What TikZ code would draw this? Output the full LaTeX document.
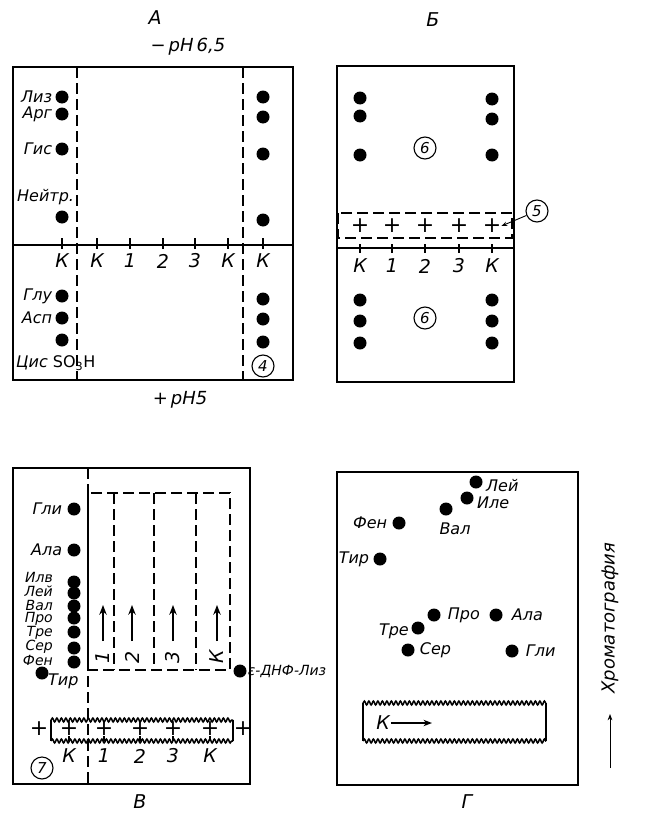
\documentclass[tikz,border=0pt]{standalone}
\usepackage{fontspec}
\setmainfont{DejaVu Sans}
\usetikzlibrary{arrows.meta,positioning,decorations.pathmorphing}
\tikzset{
  >={Stealth[length=3mm]},
  spot/.style={circle,fill=black,minimum size=13pt,inner sep=0pt},
  plate/.style={draw,line width=2.4pt},
  dsh/.style={dash pattern=on 11pt off 5pt,line width=1.4pt},
  tick/.style={line width=1.1pt},
  amino/.style={font=\fontsize{16}{16}\selectfont\itshape,inner sep=1pt},
  stack/.style={font=\fontsize{14}{14}\selectfont\itshape,inner sep=0pt},
  lane/.style={font=\fontsize{19}{19}\selectfont\itshape,inner sep=1pt},
  ttl/.style={font=\fontsize{19}{19}\selectfont\itshape},
  ph/.style={font=\fontsize{18}{18}\selectfont\itshape},
  pls/.style={font=\fontsize{22}{22}\selectfont,inner sep=0pt},
  num/.style={draw,circle,line width=1.1pt,minimum size=22pt,inner sep=0pt,
              font=\fontsize{15}{15}\selectfont\itshape},       % circled number
  wavy/.style={decorate,decoration={snake,segment length=4.5pt,amplitude=2pt},
               line width=1.5pt},                              % serrated strip edge
}

\begin{document}
\begin{tikzpicture}[x=1pt,y=-1pt]
  \useasboundingbox (0,0) rectangle (664,816);

  % ---- A: electrophoresis ----
  \node[ttl] (tA) at (155,18) {А};
  \node[ph] (phTop) at (188,47) {−\,pH\,6,5};
  \node[ph] (phBot) at (180,400) {+\,pH5};
  \draw[plate] (13,67) rectangle (293,380);
  \draw[line width=1.8pt] (13,245) -- (293,245);
  \draw[dsh] (77,67) -- (77,380);
  \draw[dsh] (243,67) -- (243,380);
  \foreach \x/\t in {62/К,97/К,130/1,163/2,195/3,228/К,263/К}{
    \draw[tick] (\x,238) -- (\x,249);
    \node[lane] (kA\x) at (\x,261) {\t};
  }
  \foreach \n/\y in {1/97,2/114,3/149,4/217,5/296,6/318,7/340}
    \node[spot] (al\n) at (62,\y) {};
  \foreach \n/\y in {1/97,2/117,3/154,4/220,5/299,6/319,7/342}
    \node[spot] (ar\n) at (263,\y) {};
  \node[amino,left=2pt of al1] (lLiz) {Лиз};
  \node[amino,left=2pt of al2] (lArg) {Арг};
  \node[amino,left=2pt of al3] (lGis) {Гис};
  \node[amino,anchor=west] (lNeu) at (16,197) {Нейтр.};
  \node[amino,left=2pt of al5] (lGlu) {Глу};
  \node[amino,left=2pt of al6] (lAsp) {Асп};
  \node[amino,anchor=west] (lCys) at (15,363) {Цис {\upshape SO\textsubscript{3}H}};
  \node[num] (c4) at (263,366) {4};

  % ---- Б ----
  \node[ttl] (tB) at (433,20) {Б};
  \draw[plate] (337,66) rectangle (514,382);
  \draw[dsh] (338,213) rectangle (512,238);
  \draw[line width=1.8pt] (337,248) -- (514,248);
  \foreach \n/\x/\t in {1/360/К,2/392/1,3/425/2,4/459/3,5/492/К}{
    \node[pls] (bp\n) at (\x,226) {+};
    \draw[tick] (\x,244) -- (\x,253);
    \node[lane] (kB\n) at (\x,266) {\t};
  }
  \foreach \n/\y/\z in {1/98/99,2/116/119,3/155/155,4/300/300,5/321/321,6/343/343}{
    \node[spot] (bl\n) at (360,\y) {};
    \node[spot] (br\n) at (492,\z) {};
  }
  \node[num] (c6a) at (425,148) {6};
  \node[num] (c6b) at (425,318) {6};
  \node[num] (c5) at (537,211) {5};
  \draw[->,line width=0.9pt,>={Stealth[length=2mm]}] (c5) -- (bp5.east);

  % ---- В ----
  \node[ttl] (tV) at (140,802) {В};
  \draw[plate] (13,468) rectangle (250,784);
  \draw[dsh] (88,468) -- (88,784);
  \draw[dsh] (88,493) rectangle (230,670);
  \foreach \x in {114,154,196} \draw[dsh] (\x,493) -- (\x,670);
  \foreach \n/\x/\t in {1/103/1,2/132/2,3/173/3,4/217/К}{
    \coordinate (vs\n) at (\x,641);
    \coordinate (ve\n) at (\x,605);
    \draw[->,line width=2pt,>={Stealth[length=3.4mm,width=2.6mm]}] (vs\n) -- (ve\n);
    \node[lane,rotate=90] (kV\n) at (\x,657) {\t};
  }
  \foreach \n/\y in {1/509,2/550,3/582,4/593,5/606,6/618,7/632,8/648,9/662}
    \node[spot] (v\n) at (74,\y) {};
  \node[amino,left=4pt of v1] (lGly) {Гли};
  \node[amino,left=4pt of v2] (lAla) {Ала};
  \foreach \n/\y/\t in {3/577/Илв,4/591/Лей,5/605/Вал,6/619/Про,7/633/Тре,8/647/Сер,9/660/Фен}
    \node[stack,anchor=east] (lv\n) at (53,\y) {\t};
  \node[spot] (vTyr) at (42,673) {};
  \node[amino,anchor=west] (lTyr) at (47,681) {Тир};
  \node[spot] (vDnp) at (240,671) {};
  \node[amino,right=0pt of vDnp,font=\fontsize{14}{14}\selectfont\itshape] (lDnp) {ε-ДНФ-Лиз};
  % strip
  \draw[wavy] (51,720) -- (233,720);
  \draw[wavy] (51,741) -- (233,741);
  \draw[line width=1.5pt] (51,720) -- (51,741) (233,720) -- (233,741);
  \foreach \n/\x/\t in {1/69/К,2/104/1,3/140/2,4/173/3,5/210/К}{
    \node[pls] (vp\n) at (\x,729) {+};
    \draw[tick] (vp\n.south) -- (\x,741);
    \node[lane] (kS\n) at (\x,756) {\t};
  }
  \node[pls] (vpL) at (39,729) {+};
  \node[pls] (vpR) at (243,729) {+};
  \node[num] (c7) at (42,768) {7};

  % ---- Г: chromatography ----
  \node[ttl] (tG) at (467,802) {Г};
  \draw[plate] (337,472) rectangle (578,785);
  \node[spot] (gLeu) at (476,482) {};
  \node[spot] (gIle) at (467,498) {};
  \node[spot] (gVal) at (446,509) {};
  \node[spot] (gPhe) at (399,523) {};
  \node[spot] (gTyr) at (380,559) {};
  \node[spot] (gPro) at (434,615) {};
  \node[spot] (gAla) at (496,615) {};
  \node[spot] (gThr) at (418,628) {};
  \node[spot] (gSer) at (408,650) {};
  \node[spot] (gGly) at (512,651) {};
  \node[amino,anchor=west] (tLeu) at (485,486) {Лей};
  \node[amino,anchor=west] (tIle) at (476,503) {Иле};
  \node[amino] (tVal) at (455,529) {Вал};
  \node[amino,left=4pt of gPhe] (tPhe) {Фен};
  \node[amino,left=3pt of gTyr] (tTyr) {Тир};
  \node[amino,right=6pt of gPro] (tPro) {Про};
  \node[amino,right=8pt of gAla] (tAla) {Ала};
  \node[amino,anchor=east] (tThr) at (410,631) {Тре};
  \node[amino,right=4pt of gSer] (tSer) {Сер};
  \node[amino,right=6pt of gGly] (tGly) {Гли};
  % strip
  \draw[wavy] (363,703) -- (546,703);
  \draw[wavy] (363,741) -- (546,741);
  \draw[line width=1.5pt] (363,703) -- (363,741) (546,703) -- (546,741);
  \node[lane] (gK) at (383,723) {К};
  \coordinate (gKend) at (432,723);
  \draw[->,line width=2.4pt,>={Stealth[length=3mm]}] (gK.east) -- (gKend);
  \node[ph,rotate=90] (chrom) at (610,618) {Хроматография};
  \coordinate (cs) at (610,768);
  \coordinate (ce) at (610,714);
  \draw[->,line width=0.9pt,>={Stealth[length=2.2mm]}] (cs) -- (ce);
\end{tikzpicture}
\end{document}
